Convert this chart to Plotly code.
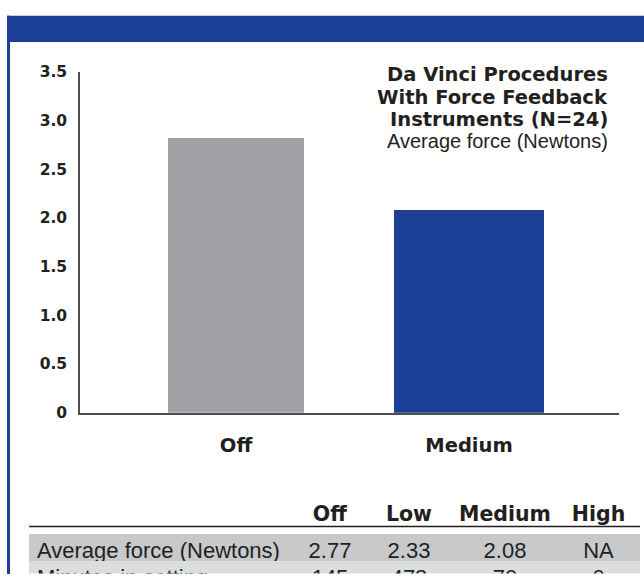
import plotly.graph_objects as go

# ---- data ----
bar_categories = ["Off", "Medium"]
bar_values = [2.82, 2.08]
y_ticks = [0, 0.5, 1.0, 1.5, 2.0, 2.5, 3.0, 3.5]
y_tick_labels = ["0", "0.5", "1.0", "1.5", "2.0", "2.5", "3.0", "3.5"]

table_columns = ["", "Off", "Low", "Medium", "High"]
table_row_labels = ["Average force (Newtons)", "Minutes in setting"]
avg_force = ["2.77", "2.33", "2.08", "NA"]
minutes = ["145", "473", "70", "0"]

title_lines = ["Da Vinci Procedures", "With Force Feedback", "Instruments (N=24)"]
subtitle = "Average force (Newtons)"

# ---- style ----
W, H = 644, 583
BLUE = "#1b3f94"
GRAY = "#a0a1a4"
TXT = "#231f20"
FONT = "Liberation Sans, Arial, sans-serif"
BOLD = "DejaVu Sans, sans-serif"

def px(x):
    return x / W

def py(y):
    return 1 - y / H

fig = go.Figure()

fig.add_trace(go.Bar(
    x=bar_categories,
    y=bar_values,
    width=[0.584, 0.644],
    marker=dict(color=[GRAY, BLUE], line=dict(width=0)),
    showlegend=False,
    hoverinfo="skip",
))

fig.update_xaxes(
    domain=[px(80), px(619)],
    range=[-0.67, 1.644],
    type="category",
    showline=True, linecolor="#4d4d4f", linewidth=1.5,
    showgrid=False, zeroline=False,
    ticks="outside", ticklen=14, tickcolor="rgba(0,0,0,0)",
    tickvals=bar_categories,
    ticktext=["<b>%s</b>" % c for c in bar_categories],
    tickfont=dict(family=BOLD, size=19.5, color=TXT),
)
fig.update_yaxes(
    domain=[py(416.5), py(65)],
    range=[0, 3.5],
    showline=True, linecolor="#4d4d4f", linewidth=1.5,
    showgrid=False, zeroline=False,
    ticks="outside", ticklen=8, tickcolor="rgba(0,0,0,0)",
    tickvals=y_ticks,
    ticktext=["<b>%s</b>" % t for t in y_tick_labels],
    tickfont=dict(family=BOLD, size=15.5, color=TXT),
)

# title block: one annotation per line for tight leading
title_y = [68, 91, 114]
for line, yc in zip(title_lines, title_y):
    fig.add_annotation(
        xref="paper", yref="paper", x=px(610), y=py(yc),
        xanchor="right", yanchor="middle", showarrow=False,
        text="<b>%s</b>" % line,
        font=dict(family=BOLD, size=19.5, color=TXT),
    )
fig.add_annotation(
    xref="paper", yref="paper", x=px(610), y=py(136.5),
    xanchor="right", yanchor="middle", showarrow=False,
    text=subtitle,
    font=dict(family=FONT, size=20, color=TXT),
)

# table
header_vals = ["<b>%s</b>" % c if c else "" for c in table_columns]
cell_cols = [table_row_labels] + [[a, m] for a, m in zip(avg_force, minutes)]
row_fills = ["#c8c9cb", "#dcdddf"]
fig.add_trace(go.Table(
    domain=dict(x=[px(29), px(640)], y=[0, py(500)]),
    columnwidth=[266, 70, 88, 104, 83],
    header=dict(
        values=header_vals,
        fill=dict(color="white"),
        line=dict(width=0, color="white"),
        align=["left", "center", "center", "center", "center"],
        font=dict(family=BOLD, size=20.5, color=TXT),
        height=34,
    ),
    cells=dict(
        values=cell_cols,
        fill=dict(color=[row_fills] * 5),
        line=dict(width=0, color=[row_fills] * 5),
        align=["left", "center", "center", "center", "center"],
        font=dict(family=FONT, size=22, color=TXT),
        height=27,
    ),
))

shapes = [
    # header band
    dict(type="rect", xref="paper", yref="paper", x0=px(7), x1=1, y0=py(34), y1=py(7),
         fillcolor=BLUE, line=dict(width=0), layer="above"),
    # left border
    dict(type="rect", xref="paper", yref="paper", x0=px(7), x1=px(10), y0=0, y1=py(7),
         fillcolor=BLUE, line=dict(width=0), layer="above"),
    # table rule
    dict(type="line", xref="paper", yref="paper", x0=px(29), x1=px(640), y0=py(534), y1=py(534),
         line=dict(color="#231f20", width=1.5), layer="above"),
]

fig.update_layout(
    width=W, height=H,
    margin=dict(l=0, r=0, t=0, b=0),
    paper_bgcolor="white", plot_bgcolor="white",
    bargap=0,
    shapes=shapes,
    font=dict(family=FONT, color=TXT),
)

fig.write_html(
    "out.html",
    config={"displayModeBar": False},
    post_script="document.body.style.margin='0';document.body.style.padding='0';",
)
